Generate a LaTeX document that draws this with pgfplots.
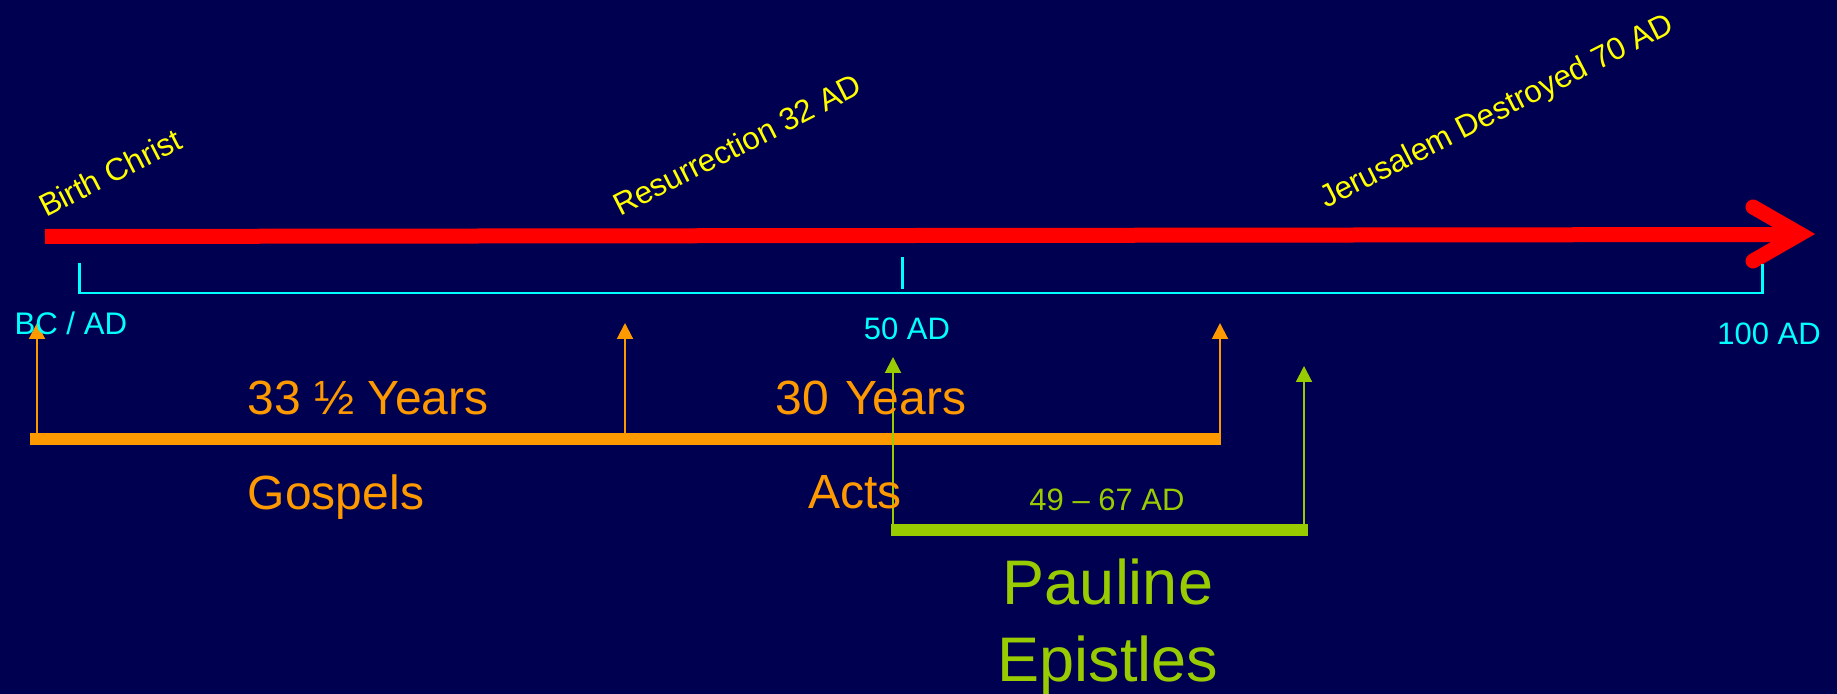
\documentclass[border=0pt]{standalone}
\usepackage{pgfplots}
\pgfplotsset{compat=1.18}
\usepackage{fontspec}
\setmainfont{Liberation Sans}
\usetikzlibrary{arrows.meta}
\definecolor{bgmid}{HTML}{000062}
\definecolor{bgtop}{HTML}{000050}
\definecolor{tlred}{HTML}{FF0000}
\definecolor{tlcyan}{HTML}{00FFFF}
\definecolor{tlyellow}{HTML}{FFFF00}
\definecolor{tlorange}{HTML}{FF9900}
\definecolor{tlgreen}{HTML}{99CC00}
\newcommand{\fsz}[1]{\fontsize{#1}{1.2\dimexpr#1\relax}\selectfont}
\tikzset{lbl/.style={inner sep=0pt, outer sep=0pt}}
\begin{document}
\begin{tikzpicture}
\begin{axis}[
  scale only axis, width=918.5pt, height=347pt,
  xmin=0, xmax=1837, ymin=0, ymax=694, y dir=reverse,
  axis line style={draw=none}, ticks=none,
  axis background/.style={top color=bgtop, middle color=bgmid, bottom color=bgtop},
  clip=false,
]
% red time arrow
\addplot[tlred, line width=7.5pt] coordinates {(45,236.5) (1796,234.5)};
\addplot[tlred, line width=7.5pt, line cap=round, line join=miter] coordinates {(1753,207) (1800,234) (1753,261)};
% cyan scale
\addplot[tlcyan, line width=1.25pt] coordinates {(79.5,263) (79.5,293) (1762.5,293) (1762.5,264)};
\addplot[tlcyan, line width=1.5pt] coordinates {(902,257) (902,289)};
% orange bar and arrows
\addplot[tlorange, line width=6pt] coordinates {(30,439) (1221,439)};
\addplot[tlorange, line width=1pt, -{Triangle[width=8pt,length=8pt]}] coordinates {(37,439) (37,323)};
\addplot[tlorange, line width=1pt, -{Triangle[width=8pt,length=8pt]}] coordinates {(625,439) (625,323)};
\addplot[tlorange, line width=1pt, -{Triangle[width=8pt,length=8pt]}] coordinates {(1220,439) (1220,323)};
% green bar and arrows
\addplot[tlgreen, line width=6pt] coordinates {(891,530) (1308,530)};
\addplot[tlgreen, line width=1pt, -{Triangle[width=8pt,length=8pt]}] coordinates {(893,530) (893,357)};
\addplot[tlgreen, line width=1pt, -{Triangle[width=8pt,length=8pt]}] coordinates {(1304,527) (1304,366)};
% yellow event labels
\node[lbl, tlyellow, anchor=base west, rotate=27, font=\fsz{15.7pt}] at (axis cs:46,218) {Birth Christ};
\node[lbl, tlyellow, anchor=base west, rotate=27, font=\fsz{15.7pt}] at (axis cs:620,217) {Resurrection 32 AD};
\node[lbl, tlyellow, anchor=base west, rotate=27, font=\fsz{15.7pt}] at (axis cs:1326,209) {Jerusalem Destroyed 70 AD};
% cyan scale labels
\node[lbl, tlcyan, anchor=base west, font=\fsz{15.6pt}] at (axis cs:14.5,335) {BC / AD};
\node[lbl, tlcyan, anchor=base, font=\fsz{15.5pt}] at (axis cs:907,340) {50 AD};
\node[lbl, tlcyan, anchor=base, font=\fsz{15.5pt}] at (axis cs:1769,345) {100 AD};
% orange labels
\node[lbl, tlorange, anchor=base, font=\fsz{24pt}] at (axis cs:368,415) {33 ½ Years};
\node[lbl, tlorange, anchor=base, font=\fsz{24pt}] at (axis cs:871,415) {30\hspace{1.5pt} Years};
\node[lbl, tlorange, anchor=base, font=\fsz{24pt}] at (axis cs:336,510) {Gospels};
\node[lbl, tlorange, anchor=base, font=\fsz{24pt}] at (axis cs:855,509) {Acts};
% green labels
\node[lbl, tlgreen, anchor=base, font=\fsz{15.5pt}] at (axis cs:1107,511) {49 – 67 AD};
\node[lbl, tlgreen, anchor=base, font=\fsz{31.5pt}] at (axis cs:1108,605) {Pauline};
\node[lbl, tlgreen, anchor=base, font=\fsz{31.5pt}] at (axis cs:1108,682) {Epistles};
\end{axis}
\pgfresetboundingbox
\useasboundingbox (current axis.south west) rectangle (current axis.north east);
\end{tikzpicture}
\end{document}
